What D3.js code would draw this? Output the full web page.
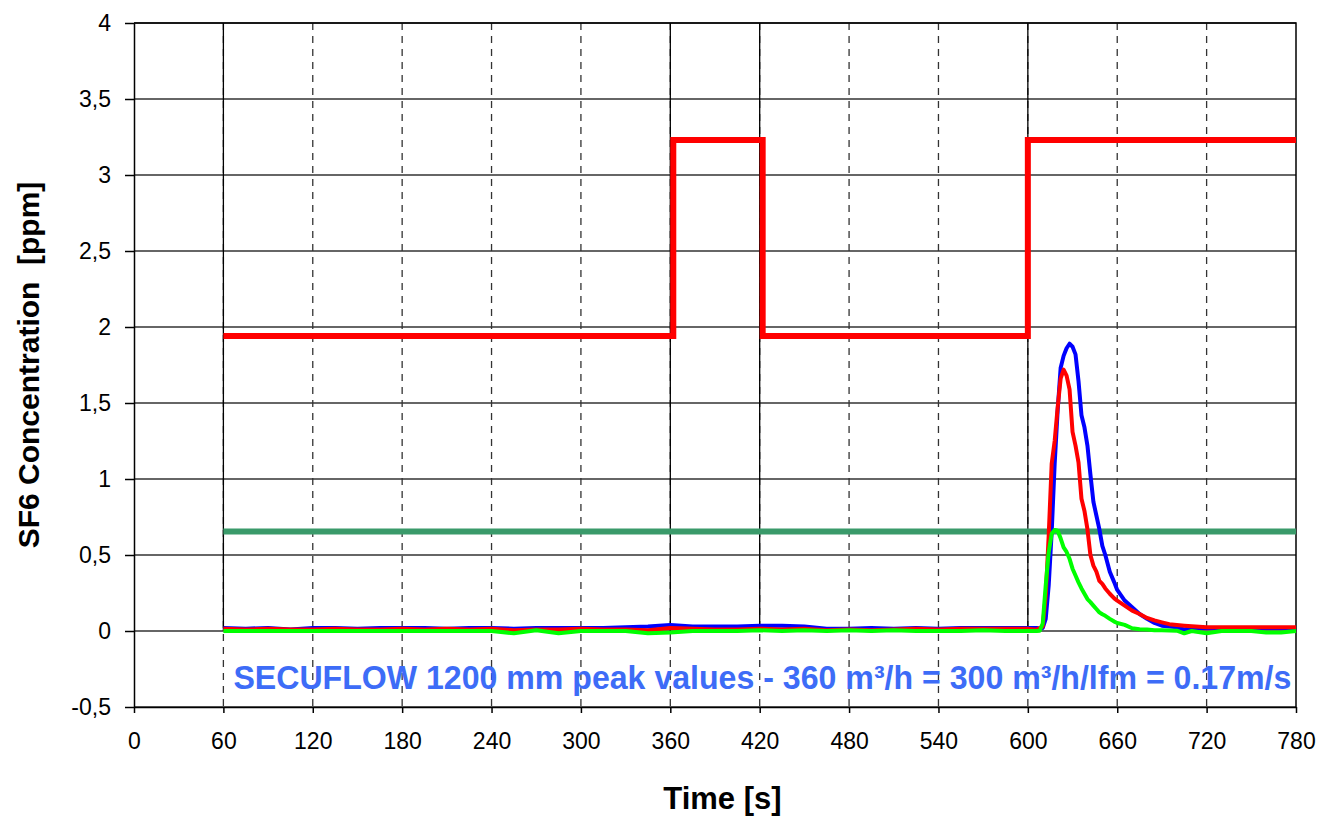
<!DOCTYPE html>
<html>
<head>
<meta charset="utf-8">
<script src="https://cdn.jsdelivr.net/npm/d3@7"></script>
<style>
  body { margin: 0; background: #fff; }
  svg { display: block; font-family: "Liberation Sans", Arial, sans-serif; }
  .axis text { font-size: 23px; fill: #000; }
  .axis path, .axis line { stroke: #000; stroke-width: 1.5; }
</style>
</head>
<body>
<svg id="chart" width="1321" height="817"></svg>
<script>
// tick values
var xTicks = [0, 60, 120, 180, 240, 300, 360, 420, 480, 540, 600, 660, 720, 780];
var yTicks = [-0.5, 0, 0.5, 1, 1.5, 2, 2.5, 3, 3.5, 4];

// solid reference verticals (0 .. 4 ppm)
var markerTimes = [60, 360, 420, 600];

// dosing step (red, thick)
var stepTimes  = [60, 362, 422, 600, 780];
var stepValues = [1.94, 3.23, 1.94, 3.23, 3.23];

// limit line (dark green)
var limitTimes  = [60, 780];
var limitValues = [0.655, 0.655];

// measured traces
var times = [60,75,90,105,120,135,150,165,180,195,210,225,240,255,270,285,300,315,330,345,360,375,390,405,420,435,450,465,480,495,510,525,540,555,570,585,600,
  604,606,608,610,612,614,616,618,620,622,624,626,628,630,632,634,636,638,640,642,644,646,648,650,652,655,658,660,
  665,670,675,680,685,690,695,700,705,710,720,730,740,750,760,770,780];

var blueValues = [0.02,0.015,0.02,0.01,0.02,0.02,0.015,0.02,0.02,0.02,0.015,0.02,0.02,0.015,0.02,0.02,0.02,0.02,0.025,0.03,0.04,0.03,0.03,0.03,0.035,0.035,0.03,0.015,0.015,0.02,0.015,0.02,0.015,0.02,0.02,0.02,0.02,
  0.02,0.02,0.015,0.02,0.08,0.30,0.65,1.10,1.45,1.73,1.81,1.86,1.89,1.87,1.82,1.645,1.42,1.34,1.22,1.03,0.85,0.76,0.67,0.56,0.50,0.39,0.32,0.27,
  0.20,0.156,0.112,0.08,0.053,0.035,0.03,0.024,0.01,0.02,0.02,0.02,0.02,0.02,0.02,0.02,0.02];

var redValues = [0.015,0.01,0.015,0.01,0.01,0.015,0.01,0.01,0.015,0.01,0.015,0.01,0.015,0.005,0.01,0.01,0.015,0.01,0.01,0.005,0.02,0.015,0.01,0.01,0.015,0.01,0.015,0.005,0.01,0.005,0.01,0.015,0.01,0.015,0.015,0.015,0.015,
  0.01,0.01,0.02,0.03,0.23,0.63,1.10,1.25,1.47,1.66,1.72,1.68,1.59,1.31,1.22,1.11,0.87,0.79,0.67,0.50,0.43,0.39,0.33,0.31,0.28,0.245,0.215,0.20,
  0.167,0.134,0.112,0.086,0.07,0.057,0.045,0.04,0.035,0.031,0.025,0.025,0.025,0.025,0.025,0.025,0.025];

var greenValues = [0,0,0,0,0,0,0,0,0,0,0,0,0,-0.015,0.005,-0.015,0,0,0,-0.015,-0.01,0,0,0,0.005,0,0.005,0,0.005,0,0.005,0,0,0,0.005,0,0,
  0,0,0.002,0.05,0.30,0.52,0.64,0.665,0.66,0.61,0.55,0.52,0.475,0.41,0.365,0.32,0.28,0.245,0.21,0.19,0.167,0.145,0.123,0.11,0.10,0.08,0.062,0.053,
  0.04,0.018,0.012,0.01,0.005,0.005,0.003,0.002,-0.015,0,-0.015,0,0,0,-0.01,-0.01,0];

var svg = d3.select("#chart"),
    margin = {top: 23, right: 25, bottom: 110, left: 134},
    width = svg.attr("width") - margin.left - margin.right,
    height = svg.attr("height") - margin.top - margin.bottom,
    g = svg.append("g").attr("transform", "translate(" + margin.left + "," + margin.top + ")");

var x = d3.scaleLinear().domain([0, 780]).range([0, width]),
    y = d3.scaleLinear().domain([-0.5, 4]).range([height, 0]);

// horizontal grid
g.append("g").selectAll("line")
  .data(yTicks)
  .enter().append("line")
    .attr("x1", 0).attr("x2", width)
    .attr("y1", function(d) { return y(d); })
    .attr("y2", function(d) { return y(d); })
    .attr("stroke", "#333")
    .attr("stroke-width", 1.5);

// vertical dashed grid
g.append("g").selectAll("line")
  .data(xTicks.slice(1, -1))
  .enter().append("line")
    .attr("x1", function(d) { return x(d); })
    .attr("x2", function(d) { return x(d); })
    .attr("y1", 0).attr("y2", height)
    .attr("stroke", "#333")
    .attr("stroke-width", 1.3)
    .attr("stroke-dasharray", "7,6");

// solid markers
g.append("g").selectAll("line")
  .data(markerTimes)
  .enter().append("line")
    .attr("x1", function(d) { return x(d); })
    .attr("x2", function(d) { return x(d); })
    .attr("y1", y(4)).attr("y2", y(0))
    .attr("stroke", "#000")
    .attr("stroke-width", 1.3);

// frame top/right
g.append("path")
  .attr("d", "M0,0H" + width + "V" + height)
  .attr("fill", "none")
  .attr("stroke", "#000")
  .attr("stroke-width", 1.5);

// axes
g.append("g")
  .attr("class", "axis")
  .attr("transform", "translate(0," + height + ")")
  .call(d3.axisBottom(x).tickValues(xTicks).tickSize(6).tickSizeOuter(0).tickPadding(20))
  .call(function(a) { a.selectAll("text").attr("dy", "0.71em"); });

g.append("g")
  .attr("class", "axis")
  .call(d3.axisLeft(y).tickValues(yTicks).tickSize(9).tickSizeOuter(0).tickPadding(14)
    .tickFormat(function(d) { return String(d).replace(".", ","); }));

var line = d3.line()
  .x(function(d) { return x(d[0]); })
  .y(function(d) { return y(d[1]); });

var stepLine = d3.line()
  .curve(d3.curveStepAfter)
  .x(function(d) { return x(d[0]); })
  .y(function(d) { return y(d[1]); });

function zip(a, b) { return a.map(function(t, i) { return [t, b[i]]; }); }

g.append("path")
  .attr("d", line(zip(limitTimes, limitValues)))
  .attr("fill", "none").attr("stroke", "#3a9a6a").attr("stroke-width", 6);

g.append("path")
  .attr("d", stepLine(zip(stepTimes, stepValues)))
  .attr("fill", "none").attr("stroke", "#ff0000").attr("stroke-width", 6)
  .attr("stroke-linejoin", "miter");

var traces = [
  {id: "blue", values: blueValues, color: "#0000ff"},
  {id: "red", values: redValues, color: "#ff0000"},
  {id: "green", values: greenValues, color: "#00ff00"}
];

g.selectAll(".trace")
  .data(traces)
  .enter().append("path")
    .attr("class", "trace")
    .attr("d", function(d) { return line(zip(times, d.values)); })
    .attr("fill", "none")
    .attr("stroke", function(d) { return d.color; })
    .attr("stroke-width", 4)
    .attr("stroke-linejoin", "round");

// annotation
g.append("text")
  .attr("x", x(60) + 10)
  .attr("y", y(-0.5) - 18)
  .attr("textLength", 1058)
  .attr("lengthAdjust", "spacingAndGlyphs")
  .style("font-size", "33px")
  .style("font-weight", "bold")
  .attr("fill", "#3d6cf7")
  .text("SECUFLOW 1200 mm peak values - 360 m\u00b3/h = 300 m\u00b3/h/lfm = 0.17m/s");

// axis titles
svg.append("text")
  .attr("transform", "translate(39," + (margin.top + y(1.75)) + ") rotate(-90)")
  .attr("text-anchor", "middle")
  .style("font-size", "30px")
  .style("font-weight", "bold")
  .style("white-space", "pre")
  .text("SF6 Concentration  [ppm]");

svg.append("text")
  .attr("x", margin.left + x(395))
  .attr("y", 809)
  .attr("text-anchor", "middle")
  .style("font-size", "31px")
  .style("font-weight", "bold")
  .text("Time [s]");
</script>
</body>
</html>
